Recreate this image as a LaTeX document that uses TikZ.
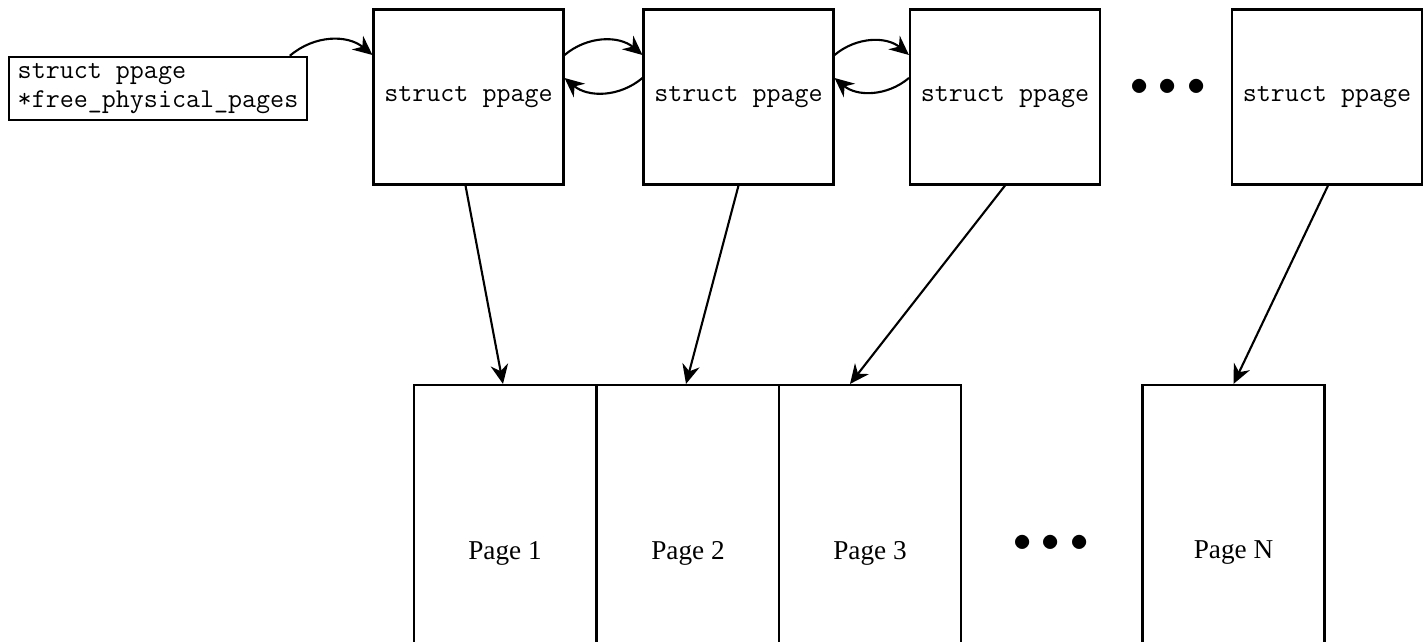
\documentclass[tikz,border=0pt]{standalone}
\usepackage{fontspec}
\newfontfamily\pagefont{Liberation Serif}
\usetikzlibrary{arrows.meta}
\tikzset{
  ppage/.style={draw,line width=1.2pt,minimum width=3.8cm,minimum height=3.5cm,inner sep=0pt,
    font=\ttfamily\fontsize{15.5}{16}\selectfont},
  page/.style={draw,line width=1.2pt,minimum width=3.64cm,minimum height=6.72cm,inner sep=0pt,
    font=\pagefont\fontsize{15.5}{16}\selectfont},
  dots/.style={font=\fontsize{20}{20}\selectfont},
  link/.style={-{Stealth[length=11pt,width=10pt]},line width=1.2pt}
}
\begin{document}
\begin{tikzpicture}
\useasboundingbox (0,0) rectangle (28.56,-12.82);
\clip (0,0) rectangle (28.56,-12.82);
% list head
\node[draw,line width=1.2pt,inner xsep=0.17cm,inner ysep=3.7pt,align=left,
  font=\ttfamily\fontsize{15.5}{16.5}\selectfont] (head) at (3.16,-1.77)
  {struct ppage\\{}*free\_physical\_pages};
% descriptors
\node[ppage] (d1) at (9.37,-1.94) {struct ppage};
\node[ppage] (d2) at (14.77,-1.94) {struct ppage};
\node[ppage] (d3) at (20.1,-1.94) {struct ppage};
\node[dots] (tdots) at (23.36,-1.74) {${\bullet}\;{\bullet}\;{\bullet}$};
\node[ppage] (d4) at (26.54,-1.94) {struct ppage};
% physical pages
\node[page] (p1) at (10.1,-11.06) {Page 1};
\node[page] (p2) at (13.76,-11.06) {Page 2};
\node[page] (p3) at (17.4,-11.06) {Page 3};
\node[dots] (bdots) at (21.02,-10.86) {${\bullet}\;{\bullet}\;{\bullet}$};
\node[page] (pn) at (24.67,-11.06) {Page N};
% links
\draw[link] ([xshift=-0.36cm]head.north east) to[bend left=40] ([yshift=0.84cm]d1.west);
\draw[link] ([yshift=0.84cm]d1.east) to[bend left=40] ([yshift=0.84cm]d2.west);
\draw[link] ([yshift=0.38cm]d2.west) to[bend left=40] ([yshift=0.38cm]d1.east);
\draw[link] ([yshift=0.84cm]d2.east) to[bend left=40] ([yshift=0.84cm]d3.west);
\draw[link] ([yshift=0.38cm]d3.west) to[bend left=40] ([yshift=0.38cm]d2.east);
\draw[link] ([xshift=-0.06cm]d1.south) -- ([xshift=-0.04cm]p1.north);
\draw[link] (d2.south) -- ([xshift=-0.04cm]p2.north);
\draw[link] (d3.south) -- ([xshift=-0.4cm]p3.north);
\draw[link] ([xshift=0.02cm]d4.south) -- (pn.north);
\end{tikzpicture}
\end{document}
